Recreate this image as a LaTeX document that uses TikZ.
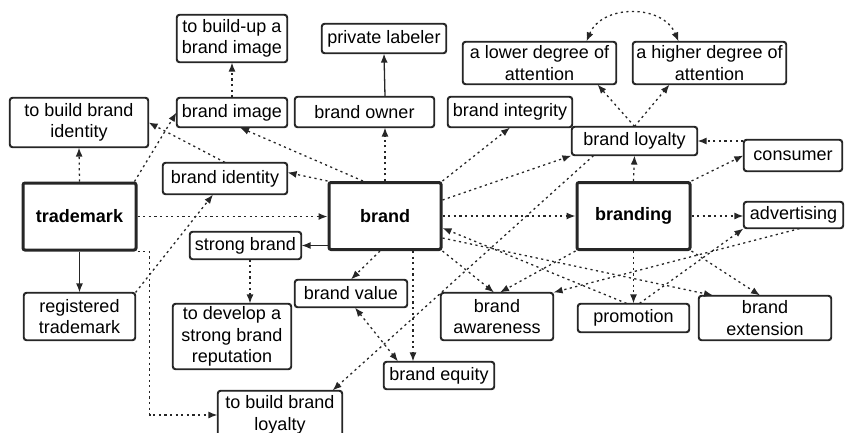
\documentclass[tikz,border=0pt]{standalone}
\usepackage{fontspec}
\setmainfont{Liberation Sans}
\usetikzlibrary{arrows.meta}
\begin{document}
\begin{tikzpicture}[x=1pt,y=-1pt,
  box/.style={draw=black!85, line width=1.2pt, rounded corners=3pt, fill=white,
    inner sep=0pt, align=center, font=\fontsize{18}{21.5}\selectfont},
  hub/.style={box, line width=3pt, rounded corners=2pt,
    font=\fontsize{18}{21.5}\selectfont\bfseries},
  link/.style={draw=black!85, line width=1.3pt, dash pattern=on 2.2pt off 3.4pt,
    -{Latex[length=9pt,width=7pt]}},
  twoway/.style={link, {Latex[length=9pt,width=7pt]}-{Latex[length=9pt,width=7pt]}},
  solidlink/.style={draw=black!85, line width=1.3pt, -{Latex[length=9pt,width=7pt]}}
]
\path[use as bounding box] (0,0) rectangle (845,432);
\clip (0,0) rectangle (845,432);

% ---- nodes ----
\node[box, minimum width=110pt, minimum height=47pt] (buildimg) at (232,38.5) {to build-up a\\brand image};
\node[box, minimum width=138pt, minimum height=49pt] (buildid) at (79,122.5) {to build brand\\identity};
\node[box, minimum width=110pt, minimum height=29pt] (bimage) at (232,112.5) {brand image};
\node[box, minimum width=139pt, minimum height=30pt] (bowner) at (364.5,112) {brand owner};
\node[box, minimum width=124pt, minimum height=29pt] (plabel) at (384,38.5) {private labeler};
\node[box, minimum width=124pt, minimum height=30pt] (bintegrity) at (510,112) {brand integrity};
\node[box, minimum width=153pt, minimum height=42pt] (lower) at (539.5,63) {a lower degree of\\attention};
\node[box, minimum width=153pt, minimum height=42pt] (higher) at (709.5,63) {a higher degree of\\attention};
\node[box, minimum width=125pt, minimum height=28pt] (bloyalty) at (634.5,141) {brand loyalty};
\node[box, minimum width=98pt, minimum height=31pt] (consumer) at (793,155.5) {consumer};
\node[box, minimum width=99pt, minimum height=26pt] (advertising) at (793.5,215) {advertising};
\node[hub, minimum width=113pt, minimum height=67pt] (branding) at (633.5,216) {branding};
\node[hub, minimum width=112pt, minimum height=67pt] (brand) at (385,216) {brand};
\node[hub, minimum width=113pt, minimum height=67pt] (trademark) at (79.5,216.5) {trademark};
\node[box, minimum width=124pt, minimum height=31pt] (bidentity) at (225,178.5) {brand identity};
\node[box, minimum width=111pt, minimum height=27pt] (strong) at (245.5,245.5) {strong brand};
\node[box, minimum width=111pt, minimum height=47pt] (registered) at (79.5,316.5) {registered\\trademark};
\node[box, minimum width=118pt, minimum height=65pt] (develop) at (232,336.5) {to develop a\\strong brand\\reputation};
\node[box, minimum width=112pt, minimum height=27pt] (bvalue) at (351,293.5) {brand value};
\node[box, minimum width=110pt, minimum height=27pt] (bequity) at (439,375.5) {brand equity};
\node[box, minimum width=112pt, minimum height=47pt] (bawareness) at (497,316.5) {brand\\awareness};
\node[box, minimum width=111pt, minimum height=28pt] (promotion) at (633.5,318) {promotion};
\node[box, minimum width=132pt, minimum height=44pt] (bextension) at (765,318) {brand\\extension};
\node[box, minimum width=124pt, minimum height=48pt] (buildloy) at (280,415) {to build brand\\loyalty};

% ---- connectors around trademark ----
\draw[link] (trademark.north) -- (buildid.south);
\draw[solidlink] (trademark.south) -- (registered.north);
\draw[link] (trademark.east) -- (trademark.east -| brand.west);
\draw[link] ([xshift=-3pt]trademark.north east) -- (bimage.west);
\draw[link] (registered.north east) -- ([xshift=-12pt]bidentity.south);
\draw[link] (trademark.south east) -- ++(12,0) |- (buildloy.west);
\draw[link] (bidentity.north) -- (buildid.east);
\draw[link] (bimage.north) -- (buildimg.south);

% ---- connectors around brand ----
\draw[link] ([xshift=-22pt]brand.north) -- ([xshift=8pt]bimage.south);
\draw[link] (brand.north west) -- ([yshift=6pt]bidentity.east);
\draw[link] (brand.north) -- (brand.north |- bowner.south);
\draw[solidlink] (brand.north |- bowner.north) -- (plabel.south);
\draw[link] (brand.north east) -- (bintegrity.south);
\draw[link] ([yshift=16pt]brand.east) -- (bloyalty.south west);
\draw[link] (brand.east) -- (branding.west);
\draw[solidlink] (brand.west |- strong.east) -- (strong.east);
\draw[link] ([xshift=4.5pt]strong.south) -- ([xshift=4.5pt]strong.south |- develop.north);
\draw[link] ([xshift=-5pt]brand.south) -- (bvalue.north);
\draw[link] ([xshift=28pt]brand.south) -- ([xshift=28pt]brand.south |- bequity.north);
\draw[twoway] ([xshift=4pt]bvalue.south) -- ([xshift=-41pt]bequity.north);
\draw[link] (brand.south east) -- ([xshift=-3pt]bawareness.north);
\draw[link] ([xshift=-7pt]promotion.north) -- ([yshift=-12pt]brand.east);
\draw[link] ([yshift=-22pt]brand.east) -- ([xshift=-52pt]bextension.north);

% ---- connectors around branding ----
\draw[link] (branding.north) -- (bloyalty.south);
\draw[link] (bloyalty.north) -- ([xshift=58pt]lower.south);
\draw[link] (bloyalty.north) -- ([xshift=-40pt]higher.south);
\draw[twoway] ([xshift=47pt]lower.north) .. controls (602,4) and (663,4) .. ([xshift=-31pt]higher.north);
\draw[link] (consumer.west |- bloyalty.east) -- (bloyalty.east);
\draw[link] (branding.north east) -- (consumer.west);
\draw[link] (branding.east) -- (branding.east -| advertising.west);
\draw[link] ([xshift=6pt]promotion.north) -- (advertising.south west);
\draw[link] ([xshift=6pt]advertising.south) -- (bawareness.north east);
\draw[link] (branding.south west) -- ([xshift=3pt]bawareness.north);
\draw[link] (branding.south) -- (promotion.north);
\draw[link] (branding.south east) -- ([xshift=-5pt]bextension.north);
\draw[link] ([xshift=-41pt]bloyalty.south) -- ([xshift=-10pt]buildloy.north east);

% ---- box outlines drawn again on top of the connectors ----
\foreach \n in {buildimg,buildid,bimage,bowner,plabel,bintegrity,lower,higher,bloyalty,consumer,advertising,bidentity,strong,registered,develop,bvalue,bequity,bawareness,promotion,bextension,buildloy}{
  \draw[draw=black!85, line width=1.2pt, rounded corners=3pt] (\n.south west) rectangle (\n.north east);
}
\end{tikzpicture}
\end{document}
